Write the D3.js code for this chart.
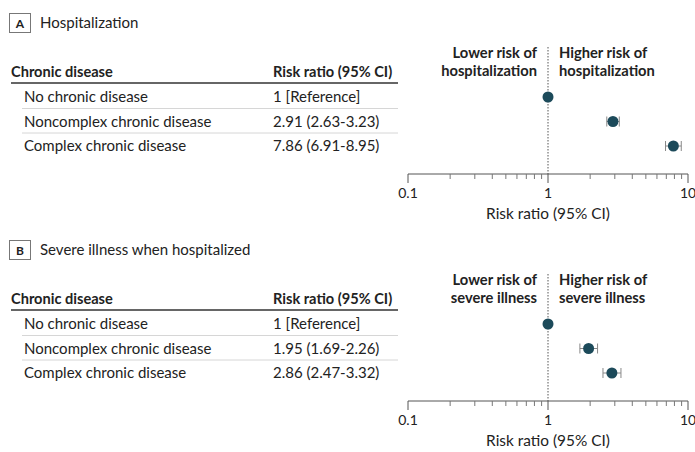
<!DOCTYPE html>
<html>
<head>
<meta charset="utf-8">
<script src="https://cdn.jsdelivr.net/npm/d3@7"></script>
<style>
  body { margin: 0; background: #fff; }
  text { font-family: Lato, "Noto Sans", sans-serif; fill: #222; }
</style>
</head>
<body>
<div id="chart"></div>
<script>
const width = 695;
const height = 452;

// data
const categories = ["No chronic disease", "Noncomplex chronic disease", "Complex chronic disease"];
const hospRR = [1, 2.91, 7.86];
const hospLow = [null, 2.63, 6.91];
const hospHigh = [null, 3.23, 8.95];
const hospLabels = ["1 [Reference]", "2.91 (2.63-3.23)", "7.86 (6.91-8.95)"];
const severeRR = [1, 1.95, 2.86];
const severeLow = [null, 1.69, 2.47];
const severeHigh = [null, 2.26, 3.32];
const severeLabels = ["1 [Reference]", "1.95 (1.69-2.26)", "2.86 (2.47-3.32)"];
const tickValues = [0.1, 1, 10];
const tickLabels = ["0.1", "1", "10"];

const panels = [
  { letter: "A", title: "Hospitalization", rr: hospRR, low: hospLow, high: hospHigh, labels: hospLabels,
    lower: ["Lower risk of", "hospitalization"], higher: ["Higher risk of", "hospitalization"], top: 0 },
  { letter: "B", title: "Severe illness when hospitalized", rr: severeRR, low: severeLow, high: severeHigh, labels: severeLabels,
    lower: ["Lower risk of", "severe illness"], higher: ["Higher risk of", "severe illness"], top: 227 }
];

const svg = d3.select("#chart")
  .append("svg")
  .attr("width", width)
  .attr("height", height);

const x = d3.scaleLog().domain([0.1, 10]).range([408, 688]);
const y = d3.scalePoint().domain(categories).range([97, 146]);

// minor ticks 0.2..0.9, 2..9
const minorTicks = x.ticks().filter(t => tickValues.indexOf(t) < 0);

panels.forEach(p => {
  const g = svg.append("g").attr("transform", `translate(0,${p.top})`);

  // panel letter box + title
  g.append("rect")
    .attr("x", 9.5).attr("y", 13.5)
    .attr("width", 21).attr("height", 19)
    .attr("fill", "none").attr("stroke", "#777").attr("stroke-width", 1);
  g.append("text")
    .attr("x", 20).attr("y", 28)
    .attr("text-anchor", "middle")
    .attr("font-size", 12).attr("font-weight", "bold")
    .text(p.letter);
  g.append("text")
    .attr("x", 40).attr("y", 28)
    .attr("font-size", 15)
    .text(p.title);

  // table header
  g.append("text").attr("x", 11).attr("y", 77)
    .attr("font-size", 14.6).attr("font-weight", "bold").text("Chronic disease");
  g.append("text").attr("x", 273).attr("y", 77)
    .attr("font-size", 14.6).attr("font-weight", "bold").text("Risk ratio (95% CI)");
  g.append("line").attr("x1", 11).attr("x2", 398).attr("y1", 83).attr("y2", 83)
    .attr("stroke", "#333").attr("stroke-width", 1.6);

  // row separators
  g.selectAll(".sep")
    .data(categories.slice(1))
    .join("line")
    .attr("x1", 22).attr("x2", 398)
    .attr("y1", d => y(d) - 13).attr("y2", d => y(d) - 13)
    .attr("stroke", "#ccc").attr("stroke-width", 0.8);

  g.selectAll(".cat")
    .data(categories)
    .join("text")
    .attr("x", 24).attr("y", d => y(d) + 5)
    .attr("font-size", 15)
    .text(d => d);

  g.selectAll(".rrlab")
    .data(p.labels)
    .join("text")
    .attr("x", 273).attr("y", (d, i) => y(categories[i]) + 5)
    .attr("font-size", 15)
    .text(d => d);

  // forest plot
  const axisY = 174;
  g.append("line")
    .attr("x1", x(1)).attr("x2", x(1))
    .attr("y1", 47).attr("y2", axisY)
    .attr("stroke", "#555").attr("stroke-width", 1)
    .attr("stroke-dasharray", "1.5,1.5");

  g.append("line").attr("x1", x(0.1)).attr("x2", x(10))
    .attr("y1", axisY).attr("y2", axisY)
    .attr("stroke", "#555").attr("stroke-width", 1);
  g.selectAll(".minor")
    .data(minorTicks)
    .join("line")
    .attr("x1", d => x(d)).attr("x2", d => x(d))
    .attr("y1", axisY).attr("y2", axisY + 5)
    .attr("stroke", "#777").attr("stroke-width", 1);
  g.selectAll(".major")
    .data(tickValues)
    .join("line")
    .attr("x1", d => x(d)).attr("x2", d => x(d))
    .attr("y1", axisY).attr("y2", axisY + 9)
    .attr("stroke", "#555").attr("stroke-width", 1);
  g.selectAll(".ticklab")
    .data(tickValues)
    .join("text")
    .attr("x", d => x(d)).attr("y", axisY + 24)
    .attr("text-anchor", "middle")
    .attr("font-size", 14)
    .text((d, i) => tickLabels[i]);
  g.append("text")
    .attr("x", x(1)).attr("y", axisY + 45)
    .attr("text-anchor", "middle")
    .attr("font-size", 15.4)
    .text("Risk ratio (95% CI)");

  // direction labels
  p.lower.forEach((t, i) => {
    g.append("text").attr("x", 537).attr("y", 58 + i * 18)
      .attr("text-anchor", "end").attr("font-size", 14.7).attr("font-weight", "bold")
      .text(t);
  });
  p.higher.forEach((t, i) => {
    g.append("text").attr("x", 559).attr("y", 58 + i * 18)
      .attr("font-size", 14.7).attr("font-weight", "bold")
      .text(t);
  });

  // CI whiskers
  const rows = categories.map((c, i) => ({ c, rr: p.rr[i], lo: p.low[i], hi: p.high[i] }));
  const ci = rows.filter(d => d.lo != null);
  g.selectAll(".ci")
    .data(ci)
    .join("line")
    .attr("x1", d => x(d.lo)).attr("x2", d => x(d.hi))
    .attr("y1", d => y(d.c)).attr("y2", d => y(d.c))
    .attr("stroke", "#888").attr("stroke-width", 1);
  g.selectAll(".capl")
    .data(ci)
    .join("line")
    .attr("x1", d => x(d.lo)).attr("x2", d => x(d.lo))
    .attr("y1", d => y(d.c) - 5).attr("y2", d => y(d.c) + 5)
    .attr("stroke", "#888").attr("stroke-width", 1);
  g.selectAll(".caph")
    .data(ci)
    .join("line")
    .attr("x1", d => x(d.hi)).attr("x2", d => x(d.hi))
    .attr("y1", d => y(d.c) - 5).attr("y2", d => y(d.c) + 5)
    .attr("stroke", "#888").attr("stroke-width", 1);

  g.selectAll(".pt")
    .data(rows)
    .join("circle")
    .attr("cx", d => x(d.rr)).attr("cy", d => y(d.c))
    .attr("r", 5.5)
    .attr("fill", "#1c4a5a");
});
</script>
</body>
</html>
